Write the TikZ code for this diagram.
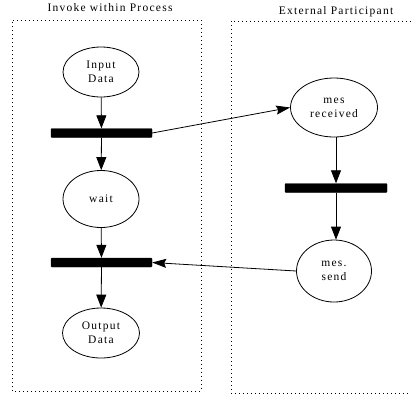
\documentclass[tikz,border=0pt]{standalone}
\usepackage{fontspec}
\setmainfont{Liberation Serif}
\newfontfamily\dfont[LetterSpace=11]{Liberation Serif}
\usetikzlibrary{arrows.meta,shapes.geometric}
\begin{document}
\begin{tikzpicture}[x=1pt,y=-1pt,
  place/.style={draw,ellipse,line width=0.8pt,inner sep=0pt,font=\dfont\fontsize{11.5}{14}\selectfont,align=center},
  bar/.style={fill=black,draw=black,rounded corners=0.8pt,minimum height=9pt,inner sep=0pt},
  flow/.style={line width=0.8pt,-{Triangle[width=10pt,length=13pt]}},
  side/.style={line width=0.8pt,-{Stealth[width=9pt,length=14pt,inset=2pt]}},
  frame/.style={line width=1pt,dash pattern=on 1pt off 3pt},
  title/.style={font=\dfont\fontsize{11.5}{13}\selectfont}]
\useasboundingbox (0,0) rectangle (411,397);
% frames
\draw[frame] (12,391) -- (12,20) -- (201,20) -- (201,391) -- cycle;
\draw[frame] (411,21) -- (231,21) -- (231,393) -- (411,393);
\node[title] (t1) at (110,8) {Invoke within Process};
\node[title] (t2) at (336,12) {External Participant};
% left column
\node[place,minimum width=76pt,minimum height=50pt] (in) at (101,72) {Input\\Data};
\node[bar,minimum width=101pt] (b1) at (101.5,133) {};
\node[place,minimum width=76pt,minimum height=57pt] (wait) at (101,199) {wait};
\node[bar,minimum width=101pt] (b2) at (101.5,262.5) {};
\node[place,minimum width=77pt,minimum height=50pt] (out) at (101,333) {Output\\Data};
% right column
\node[place,minimum width=87pt,minimum height=59pt] (rec) at (334,107.5) {mes\\received};
\node[bar,minimum width=102pt] (b3) at (336,188) {};
\node[place,minimum width=75pt,minimum height=62pt] (snd) at (334,271) {mes.\\send};
% arrows
\draw[flow] (in) -- (b1);
\draw[flow] (b1) -- (wait);
\draw[flow] (wait) -- (b2);
\draw[flow] (b2) -- (out);
\draw[flow] (rec.south -| b3) -- (b3);
\draw[flow] (b3) -- (snd.north -| b3);
\draw[side] (b1.east) -- (rec.west);
\draw[side] (snd.west) -- (b2.east);
\end{tikzpicture}
\end{document}
